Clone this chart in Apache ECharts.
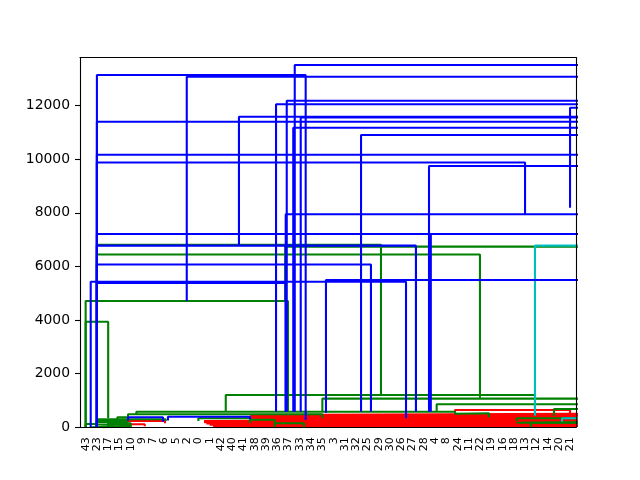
<!DOCTYPE html>
<html><head><meta charset="utf-8">
<script src="https://cdn.jsdelivr.net/npm/echarts@6/dist/echarts.min.js"></script>
<style>html,body{margin:0;padding:0;background:#fff}#c{width:640px;height:480px}</style>
</head><body><div id="c"></div>
<script>
// Leaf labels in dendrogram order
const leafLabels = ['43','23','17','15','10','9','7','6','5','2','0','1','42','40','41','38','39','36','37','33','34','35','3','31','32','25','29','30','26','27','28','4','8','24','11','22','19','16','18','13','12','14','20','21'];
const yTickValues = [0, 2000, 4000, 6000, 8000, 10000, 12000];
const yMax = 13794;
const xMax = 440;

// Links (U shapes): left leg x, right leg x, top height, bottom of left leg, bottom of right leg, colour
const linkLeft    = [190.5, 15, 94.7, 183.4, 173.9, 434.7, 141, 195.8, 15, 189.2, 249.3, 15, 15, 309.6, 182.5, 15, 311.2, 15, 15, 218.2, 9.5, 15, 42.6, 78,
                     15, 15, 182, 5, 5, 129.3, 215, 316.4, 420.5, 50, 332.7, 42.6, 33.1, 15, 105, 172.7, 387.4, 387.4, 400, 5, 15, 150.8, 20, 10, 25,
                     15, 15, 15, 20,
                     403.6, 427.6,
                     332.7, 151, 151, 151, 151, 151, 110, 110, 112, 115, 118, 120, 150, 41, 29.3];
const linkRight   = [700, 200.2, 700, 700, 700, 700, 700, 700, 700, 700, 700, 700, 394.8, 700, 700, 700, 700, 298, 258.1, 700, 289.2, 182.5, 73.6, 150.8,
                     267, 354.8, 700, 184.5, 25, 403.6, 700, 700, 700, 332.7, 362.8, 215, 42.6, 76, 150.8, 198.7, 700, 700, 700, 15, 33.1, 172.7, 45, 30, 45,
                     42, 40, 38, 36,
                     700, 700,
                     434.7, 445, 445, 445, 445, 445, 445, 445, 445, 445, 445, 445, 300, 75.4, 57.4];
const linkTop     = [13517, 13144, 13081, 12185, 12051, 11924, 11588, 11560, 11401, 11177, 10905, 10170, 9880, 9748, 7945, 7210, 7210, 6775, 6072, 5494, 5430, 5381, 369, 392,
                     6810, 6445, 6740, 4710, 3937, 1202, 1065, 855, 679, 578, 519, 481, 369, 295, 332, 146, 332, 231, 168, 119, 200, 280, 60, 40, 150,
                     250, 195, 100, 20,
                     6775, 332,
                     642, 500, 455, 410, 365, 320, 275, 230, 185, 140, 95, 50, 10, 231, 108];
const linkBottomL = [578, 0, 4710, 578, 578, 8192, 6810, 578, 0, 578, 578, 0, 0, 578, 578, 0, 578, 0, 0, 541, 0, 0, 250, 250,
                     0, 0, 4710, 0, 0, 578, 578, 578, 420, 481, 500, 369, 250, 0, 231, 0, 231, 168, 0, 0, 0, 146, 0, 0, 0,
                     0, 0, 0, 0,
                     429, 200,
                     500, 455, 410, 365, 320, 275, 230, 185, 140, 95, 50, 0, 0, 100, 0];
const linkBottomR = [578, 269, 578, 578, 578, 578, 578, 578, 578, 578, 578, 578, 7945, 578, 578, 578, 578, 578, 578, 578, 332, 578, 200, 300,
                     1202, 1101, 578, 578, 332, 429, 578, 578, 420, 500, 369, 332, 300, 231, 280, 0, 231, 168, 0, 0, 100, 146, 0, 0, 60,
                     0, 0, 0, 0,
                     429, 200,
                     340, 455, 410, 365, 320, 275, 230, 185, 140, 95, 50, 0, 0, 150, 40];
const linkColor   = ['b','b','b','b','b','b','b','b','b','b','b','b','b','b','b','b','b','b','b','b','b','b','b','b',
                     'g','g','g','g','g','g','g','g','g','g','g','g','g','g','g','g','g','g','g','g','g','g','g','g','g',
                     'g','g','g','g',
                     'c','c',
                     'r','r','r','r','r','r','r','r','r','r','r','r','r','r','r'];

const colorMap = { r: '#ff0000', g: '#008000', c: '#00bfbf', b: '#0000ff' };
const drawOrder = ['r', 'g', 'c', 'b'];

const series = [];
drawOrder.forEach(col => {
  linkColor.forEach((c, i) => {
    if (c !== col) return;
    series.push({
      type: 'line',
      data: [[linkLeft[i], linkBottomL[i]], [linkLeft[i], linkTop[i]], [linkRight[i], linkTop[i]], [linkRight[i], linkBottomR[i]]],
      symbol: 'none', showSymbol: false, silent: true, animation: false, clip: true,
      lineStyle: { color: colorMap[c], width: 2.1 }
    });
  });
});

const leafPositions = leafLabels.map((_, i) => 5 + 10 * i);
const axisLineStyle = { color: '#000', width: 1.1 };
const font = 'DejaVu Sans';

const chart = echarts.init(document.getElementById('c'), null, { renderer: 'canvas' });
chart.setOption({
  animation: false,
  backgroundColor: '#fff',
  grid: { left: 80, right: 64, top: 57.6, bottom: 52.8, containLabel: false },
  xAxis: [
    { type: 'value', min: 0, max: xMax, position: 'bottom', z: 10,
      axisLine: { show: true, onZero: false, lineStyle: axisLineStyle },
      axisTick: { show: false }, splitLine: { show: false },
      axisLabel: { customValues: leafPositions, formatter: v => leafLabels[Math.round((v - 5) / 10)],
        rotate: 90, fontSize: 11.1, fontFamily: font, color: '#000', margin: 10 } },
    { type: 'value', min: 0, max: xMax, position: 'top', z: 10,
      axisLine: { show: true, onZero: false, lineStyle: axisLineStyle },
      axisTick: { show: false }, axisLabel: { show: false }, splitLine: { show: false } }
  ],
  yAxis: [
    { type: 'value', min: 0, max: yMax, position: 'left', z: 10,
      axisLine: { show: true, onZero: false, lineStyle: axisLineStyle },
      axisTick: { show: true, length: 5, customValues: yTickValues, lineStyle: axisLineStyle },
      axisLabel: { customValues: yTickValues, formatter: v => String(Math.round(v)), fontSize: 13.9, fontFamily: font, color: '#000', margin: 10 },
      splitLine: { show: false } },
    { type: 'value', min: 0, max: yMax, position: 'right', z: 10,
      axisLine: { show: true, onZero: false, lineStyle: axisLineStyle },
      axisTick: { show: false }, axisLabel: { show: false }, splitLine: { show: false } }
  ],
  series: series
});
</script>
</body></html>
